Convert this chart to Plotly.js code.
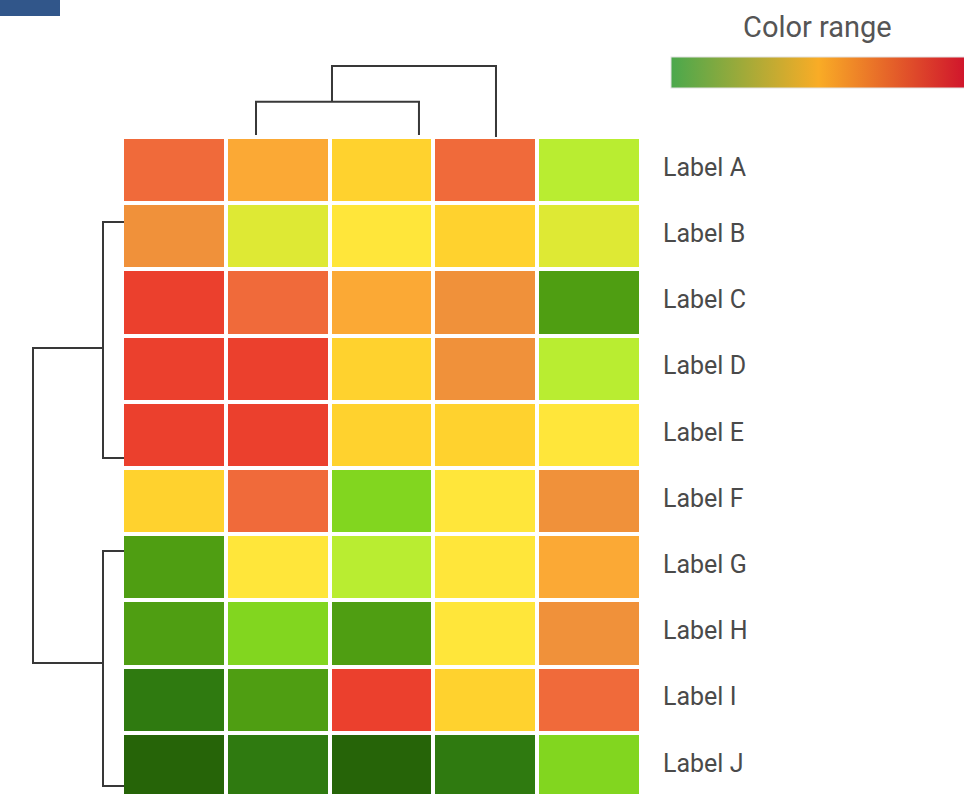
<!DOCTYPE html>
<html>
<head>
<meta charset="utf-8">
<script src="https://cdn.plot.ly/plotly-3.0.1.min.js"></script>
<style>
html,body{margin:0;padding:0;background:#fff;overflow:hidden;}
#chart{width:964px;height:794px;}
</style>
</head>
<body>
<div id="chart"></div>
<script>
// ---- data ----
const rowLabels = ["Label A","Label B","Label C","Label D","Label E","Label F","Label G","Label H","Label I","Label J"];
const rowIdx = [0,1,2,3,4,5,6,7,8,9];
const colIdx = [0,1,2,3,4];
// ordinal level of each cell (0 = darkest green ... 11 = red)
const levelColors = ["#266408","#2f7a10","#4f9e12","#82d61f","#b9ed31","#dee934",
                     "#ffe63a","#ffd22e","#fba935","#f0913a","#f06a3a","#eb402d"];
const rowA = [10, 8, 7,10, 4];
const rowB = [ 9, 5, 6, 7, 5];
const rowC = [11,10, 8, 9, 2];
const rowD = [11,11, 7, 9, 4];
const rowE = [11,11, 7, 7, 6];
const rowF = [ 7,10, 3, 6, 9];
const rowG = [ 2, 6, 4, 6, 8];
const rowH = [ 2, 3, 2, 6, 9];
const rowI = [ 1, 2,11, 7,10];
const rowJ = [ 0, 1, 0, 1, 3];
// colour range bar (green -> orange -> red)
const rangeStops = [0, 0.5, 1];
const rangeColors = ["#4aa84c", "#f9ac26", "#d0142c"];
const rangeValues = [0, 1];
// column dendrogram (x in column units, y = merge height)
const colDendroX = [0.791,0.791,2.361,2.361,null,1.523,1.523,3.103,3.103];
const colDendroH = [2,35.3,35.3,2,null,35.3,71,71,0];
// row dendrogram (x = merge height, y in row units)
const rowDendroH = [6,27,27,6,null,27,97,97,27,null,6,27,27,6];
const rowDendroY = [0.784,0.784,4.349,4.349,null,2.687,2.687,7.446,7.446,null,5.754,5.754,9.304,9.304];

// ---- build ----
const zMatrix = [rowA,rowB,rowC,rowD,rowE,rowF,rowG,rowH,rowI,rowJ];
const n = levelColors.length;
const discreteScale = [];
levelColors.forEach((c,i)=>{ discreteScale.push([i/n,c]); discreteScale.push([(i+1)/n,c]); });
const rangeScale = rangeStops.map((s,i)=>[s,rangeColors[i]]);

const W = 964, H = 794;
const heatTop = 137, heatLeft = 122, heatRight = 641;

const traces = [
  {
    type:'heatmap', x: colIdx, y: rowIdx, z: zMatrix,
    zmin:-0.5, zmax:n-0.5, colorscale: discreteScale, showscale:false,
    xgap:4, ygap:4, hoverinfo:'skip', xaxis:'x', yaxis:'y'
  },
  {
    type:'scatter', mode:'lines', x: colDendroX, y: colDendroH,
    xaxis:'x', yaxis:'y2', line:{color:'#383838', width:2}, hoverinfo:'skip', connectgaps:false
  },
  {
    type:'scatter', mode:'lines', x: rowDendroH, y: rowDendroY,
    xaxis:'x2', yaxis:'y', line:{color:'#383838', width:2}, hoverinfo:'skip', connectgaps:false
  },
  {
    type:'scatter', mode:'markers', x:[null,null], y:[null,null], xaxis:'x', yaxis:'y',
    hoverinfo:'skip',
    marker:{
      color: rangeValues, cmin:0, cmax:1, colorscale: rangeScale, showscale:true, size:1, opacity:0,
      colorbar:{
        orientation:'h', xref:'container', yref:'container',
        x: 818/W, xanchor:'center', y: 1-73.5/H, yanchor:'middle',
        len: 295, lenmode:'pixels', thickness: 31, thicknessmode:'pixels',
        xpad:0, ypad:0, outlinewidth:1, outlinecolor:'#e2e2e2',
        showticklabels:false, ticks:''
      }
    }
  }
];

const layout = {
  width: W, height: H,
  margin:{l:0,r:0,t:0,b:0,pad:0,autoexpand:false},
  paper_bgcolor:'#ffffff', plot_bgcolor:'rgba(0,0,0,0)',
  showlegend:false,
  font:{family:'Roboto, "Open Sans", sans-serif', color:'#4a4a4a'},
  xaxis:{domain:[heatLeft/W, heatRight/W], range:[-0.5,4.5], visible:false, fixedrange:true, anchor:'y'},
  yaxis:{domain:[0, 1-heatTop/H], range:[9.425,-0.5], type:'linear', side:'right', anchor:'x',
         tickvals: rowIdx, ticktext: rowLabels, showgrid:false, zeroline:false, showline:false,
         ticks:'outside', ticklen:16, tickcolor:'rgba(0,0,0,0)', automargin:false,
         ticklabelshift:3,
         tickfont:{family:'Roboto', size:25, color:'#4a4a4a'}},
  yaxis2:{domain:[1-heatTop/H, 1], range:[0,heatTop], visible:false, anchor:'x'},
  xaxis2:{domain:[0, 130/W], range:[130,0], visible:false, anchor:'y'},
  annotations:[{
    text:'Color range', xref:'paper', yref:'paper', x:817.5/W, y:1-27/H,
    xanchor:'center', yanchor:'middle', showarrow:false,
    font:{family:'Roboto', size:29, color:'#555555'}
  }],
  shapes:[{type:'rect', xref:'paper', yref:'paper', x0:0, x1:60/W, y0:1-16/H, y1:1,
           fillcolor:'#31568a', line:{width:0}, layer:'above'}]
};

Plotly.newPlot('chart', traces, layout, {displayModeBar:false, staticPlot:true});
</script>
</body>
</html>
